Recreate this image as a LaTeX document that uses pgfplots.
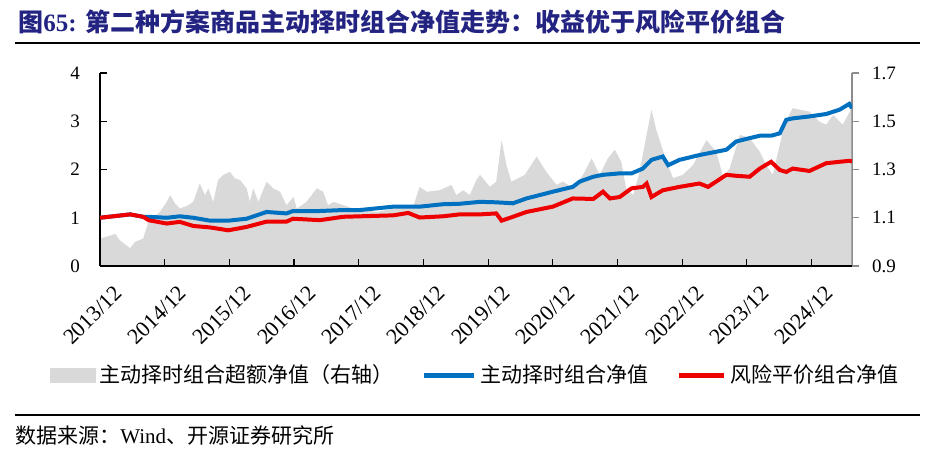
\documentclass[border=0pt]{standalone}
\usepackage{pgfplots}
\pgfplotsset{compat=1.18}
\usepackage{fontspec}
\setmainfont{Liberation Serif}
\newfontfamily\cjk{Noto Sans CJK SC}
\definecolor{myblue}{RGB}{0,112,192}
\definecolor{myred}{RGB}{238,0,0}
\definecolor{mygray}{RGB}{217,217,217}
\definecolor{titleblue}{RGB}{35,35,130}
\definecolor{raxis}{RGB}{140,140,140}

\pgfplotstableread{
m r
0 1.014
2.2 1.028
2.8 1.034
3.7 1.006
5.6 0.974
6.5 1.000
8.0 1.014
9.0 1.084
11.1 1.124
12.4 1.166
13.0 1.194
13.9 1.160
14.8 1.138
16.4 1.152
17.3 1.166
18.5 1.242
19.5 1.194
20.1 1.222
21.0 1.166
21.9 1.256
22.9 1.278
24.1 1.290
25.0 1.264
26.0 1.256
27.2 1.222
27.8 1.166
28.4 1.222
29.4 1.166
30.9 1.250
32.1 1.222
33.4 1.208
34.6 1.152
35.9 1.186
36.5 1.138
38.3 1.166
40.2 1.222
41.4 1.208
42.3 1.152
43.3 1.166
45.1 1.152
47.0 1.138
51.3 1.124
54.4 1.138
58.1 1.146
59.3 1.228
60.6 1.208
63.0 1.214
65.2 1.236
66.1 1.194
67.4 1.214
68.6 1.194
69.8 1.256
70.5 1.278
72.3 1.228
73.5 1.250
74.5 1.422
75.4 1.318
76.3 1.250
77.6 1.264
78.8 1.278
81.0 1.354
82.8 1.290
84.7 1.236
85.9 1.250
87.8 1.222
89.6 1.278
91.2 1.346
92.7 1.278
94.2 1.346
95.5 1.382
96.7 1.332
97.6 1.222
98.9 1.194
100.1 1.290
101.4 1.444
102.3 1.548
103.2 1.464
104.1 1.402
105.1 1.332
106.3 1.264
108.1 1.278
110.0 1.318
112.5 1.422
114.3 1.374
115.6 1.270
116.8 1.304
118.7 1.444
120.5 1.430
122.4 1.374
123.6 1.318
124.8 1.278
126.1 1.402
127.0 1.492
128.5 1.554
131.6 1.540
133.5 1.498
134.7 1.486
136.0 1.526
137.8 1.486
139.4 1.554
}\graydata

\pgfplotstableread{
m v
0 1.00
5.6 1.07
8.0 1.02
9.0 1.02
12.4 1.00
14.8 1.03
17.3 1.00
20.4 0.94
23.8 0.94
27.2 0.98
30.9 1.12
34.6 1.09
35.8 1.14
40.8 1.14
45.1 1.16
48.2 1.16
54.4 1.23
57.2 1.23
59.3 1.23
63.6 1.28
66.7 1.29
70.5 1.33
73.5 1.32
76.6 1.30
79.1 1.40
84.0 1.54
87.7 1.64
89.0 1.75
91.5 1.85
93.3 1.89
96.4 1.92
98.6 1.92
100.7 2.02
102.3 2.20
104.4 2.27
105.4 2.09
107.5 2.20
111.2 2.30
116.2 2.41
118.0 2.58
120.5 2.65
122.4 2.70
124.5 2.70
126.1 2.75
127.3 3.03
128.5 3.06
131.6 3.10
134.7 3.15
137.2 3.24
139.0 3.36
139.5 3.27
}\bluedata

\pgfplotstableread{
m v
0 1.00
5.6 1.07
8.0 1.02
9.0 0.95
12.4 0.88
14.8 0.915
17.3 0.83
20.4 0.80
23.8 0.74
27.2 0.81
30.9 0.92
34.6 0.92
35.8 0.98
40.8 0.95
45.1 1.02
48.2 1.03
54.4 1.05
57.2 1.10
59.3 1.005
63.6 1.03
66.7 1.07
70.5 1.07
73.5 1.09
74.5 0.94
76.6 1.02
79.1 1.12
84.0 1.23
87.7 1.40
91.5 1.39
93.3 1.54
94.6 1.40
96.4 1.43
98.6 1.61
100.7 1.64
101.4 1.71
102.3 1.43
104.4 1.57
107.5 1.64
111.2 1.71
112.8 1.64
116.2 1.89
118.0 1.87
120.5 1.85
122.4 2.02
124.5 2.16
126.1 1.99
127.3 1.95
128.5 2.02
131.6 1.97
134.7 2.13
137.2 2.16
139.0 2.18
139.5 2.17
}\reddata

\begin{document}
\begin{tikzpicture}
\useasboundingbox (0,0) rectangle (466.5pt,-226pt);
\node[anchor=west, inner sep=0pt, text=titleblue, font=\bfseries\fontsize{12.5}{15}\selectfont] at (9pt,-11pt) {{\cjk 图}65: {\cjk 第二种方案商品主动择时组合净值走势：收益优于风险平价组合}};
\draw[line width=0.6pt] (7.5pt,-21.5pt) -- (460pt,-21.5pt);
\draw[line width=0.6pt] (7.5pt,-207.5pt) -- (460pt,-207.5pt);
\node[anchor=west, inner sep=0pt, font=\fontsize{10.5}{12}\selectfont] at (7.5pt,-217.5pt) {{\cjk 数据来源：}Wind{\cjk 、开源证券研究所}};

\begin{axis}[
  at={(50pt,-133pt)}, anchor=south west,
  width=376pt, height=96.5pt, scale only axis,
  xmin=0, xmax=139.5, ymin=0.9, ymax=1.7,
  axis x line=none, axis y line*=right,
  y axis line style={raxis, line width=0.6pt},
  ytick={0.9,1.1,1.3,1.5,1.7},
  ytick style={raxis, line width=0.6pt},
  tick align=outside, major tick length=3.5pt,
  /pgf/number format/fixed,
  /pgf/number format/fixed zerofill,
  /pgf/number format/precision=1,
  /pgf/number format/assume math mode=true,
  yticklabel style={font=\fontsize{9.5}{11}\selectfont, xshift=3pt},
]
\addplot[fill=mygray, draw=none] table[x=m, y=r] {\graydata} \closedcycle;
\end{axis}

\begin{axis}[
  at={(50pt,-133pt)}, anchor=south west,
  width=376pt, height=96.5pt, scale only axis,
  xmin=0, xmax=139.5, ymin=0, ymax=4,
  axis y line*=left, axis x line*=bottom,
  axis line style={black, line width=0.6pt},
  every tick/.style={black, line width=0.6pt},
  tick align=inside, major tick length=3.5pt,
  ytick={0,1,2,3,4},
  xtick={0,12,...,132},
  xticklabels={2013/12,2014/12,2015/12,2016/12,2017/12,2018/12,2019/12,2020/12,2021/12,2022/12,2023/12,2024/12},
  xticklabel style={rotate=45, anchor=north east, font=\fontsize{11}{12}\selectfont, yshift=-7.5pt, xshift=1.5pt},
  yticklabel style={font=\fontsize{9.5}{11}\selectfont, xshift=-6.5pt},
  /pgf/number format/assume math mode=true,
  legend columns=3,
  legend style={at={(0.5,-0.565)}, anchor=center, draw=none, fill=none,
    font=\cjk\fontsize{10.5}{12}\selectfont,
    /tikz/every even column/.append style={column sep=12pt}},
]
\addlegendimage{legend image code/.code={\fill[mygray] (0pt,-3.5pt) rectangle (22.5pt,3.5pt);}}
\addlegendentry{主动择时组合超额净值（右轴）}
\addplot[myblue, line width=2pt, legend image code/.code={\draw[myblue, line width=2.5pt] (0pt,0pt) -- (25pt,0pt);}] table[x=m, y=v] {\bluedata};
\addlegendentry{主动择时组合净值}
\addplot[myred, line width=2pt, legend image code/.code={\draw[myred, line width=2.5pt] (0pt,0pt) -- (22.5pt,0pt);}] table[x=m, y=v] {\reddata};
\addlegendentry{风险平价组合净值}
\end{axis}
\end{tikzpicture}
\end{document}
